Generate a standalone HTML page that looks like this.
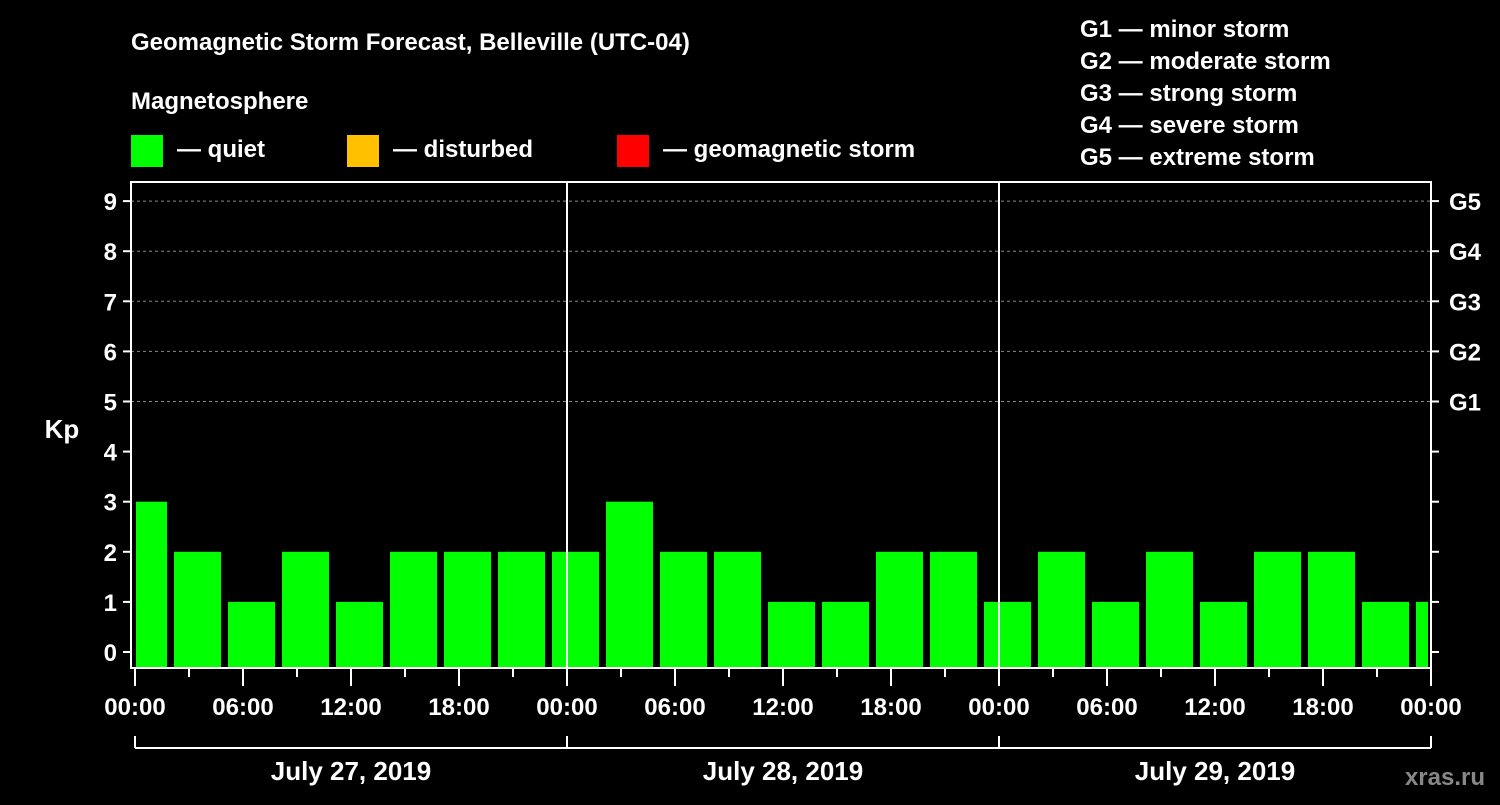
<!DOCTYPE html>
<html><head><meta charset="utf-8"><style>
body{margin:0;background:#000;width:1500px;height:800px;overflow:hidden}
svg text{font-family:"Liberation Sans",Arial,sans-serif;font-weight:bold;fill:#fff}
</style></head><body>
<svg width="1500" height="800">
<text x="131" y="50" font-size="24">Geomagnetic Storm Forecast, Belleville (UTC-04)</text>
<text x="131" y="109" font-size="24">Magnetosphere</text>
<rect x="131" y="135" width="32" height="32" fill="#00ff00"/>
<text x="177" y="157" font-size="24">— quiet</text>
<rect x="347" y="135" width="32" height="32" fill="#ffc000"/>
<text x="393" y="157" font-size="24">— disturbed</text>
<rect x="617" y="135" width="32" height="32" fill="#ff0000"/>
<text x="663" y="157" font-size="24">— geomagnetic storm</text>
<g font-size="24">
<text x="1080" y="37">G1 — minor storm</text>
<text x="1080" y="69">G2 — moderate storm</text>
<text x="1080" y="101">G3 — strong storm</text>
<text x="1080" y="133">G4 — severe storm</text>
<text x="1080" y="165">G5 — extreme storm</text>
</g>
<text x="62" y="438" font-size="26" text-anchor="middle">Kp</text>
<text x="1485" y="785" font-size="24" text-anchor="end" style="fill:#888">xras.ru</text>
<g id="g"></g>
</svg>
<script>
const kpValues=[3,2,1,2,1,2,2,2,2,3,2,2,1,1,2,2,1,2,1,2,1,2,2,1,1];
const yTicks=[0,1,2,3,4,5,6,7,8,9];
const gLabels=["G1","G2","G3","G4","G5"];
const xTickLabels=["00:00","06:00","12:00","18:00","00:00","06:00","12:00","18:00","00:00","06:00","12:00","18:00","00:00"];
const dayLabels=["July 27, 2019","July 28, 2019","July 29, 2019"];
const L=131,R=1431,T=182,B=668;
const xs=h=>135+h*18, ys=v=>652-50.1*v;
const g=document.getElementById('g'),NS='http://www.w3.org/2000/svg';
function mk(t,a,p){const e=document.createElementNS(NS,t);for(const k in a)e.setAttribute(k,a[k]);(p||g).appendChild(e);return e;}
yTicks.forEach(v=>{
 if(v>=5){const l=mk('line',{x1:L,x2:R,y1:ys(v),y2:ys(v),stroke:'#888','stroke-dasharray':'3,3'});
 
 }
 mk('line',{x1:L-8,x2:L,y1:ys(v),y2:ys(v),stroke:'#fff','stroke-width':2});
 mk('line',{x1:R,x2:R+8,y1:ys(v),y2:ys(v),stroke:'#fff','stroke-width':2});
 const t=mk('text',{x:L-14,y:ys(v)+9,'font-size':24,'text-anchor':'end'});t.textContent=v;
 
 
});
gLabels.forEach((s,i)=>{const t=mk('text',{x:1449,y:ys(5+i)+9,'font-size':24});t.textContent=s;
 
 });
kpValues.forEach((v,i)=>{
 let x0=xs(-0.833+3*i),x1=x0+47;x0=Math.max(x0,L+5);x1=Math.min(x1,R-3);
 const c=v>=5?'#ff0000':(v>=4?'#ffc000':'#00ff00');
 const r=mk('rect',{x:x0,y:ys(v),width:x1-x0,height:B-ys(v),fill:c});
 
 
});
[1,2].forEach(d=>mk('line',{x1:xs(24*d),x2:xs(24*d),y1:T,y2:B,stroke:'#fff','stroke-width':2}));
const f=mk('rect',{x:L,y:T,width:R-L,height:B-T,fill:'none',stroke:'#fff','stroke-width':2});


for(let h=0;h<=72;h+=3){mk('line',{x1:xs(h),x2:xs(h),y1:B,y2:B+(h%6?9:18),stroke:'#fff','stroke-width':2});}
xTickLabels.forEach((s,i)=>{const t=mk('text',{x:xs(i*6),y:715,'font-size':24,'text-anchor':'middle'});t.textContent=s;
 
 });
mk('line',{x1:xs(0),x2:xs(72),y1:748,y2:748,stroke:'#fff','stroke-width':2});
for(let d=0;d<=3;d++)mk('line',{x1:xs(24*d),x2:xs(24*d),y1:736,y2:748,stroke:'#fff','stroke-width':2});
dayLabels.forEach((s,i)=>{const t=mk('text',{x:xs(24*i+12),y:780,'font-size':26,'text-anchor':'middle'});t.textContent=s;
 
 });
</script>
</body></html>
